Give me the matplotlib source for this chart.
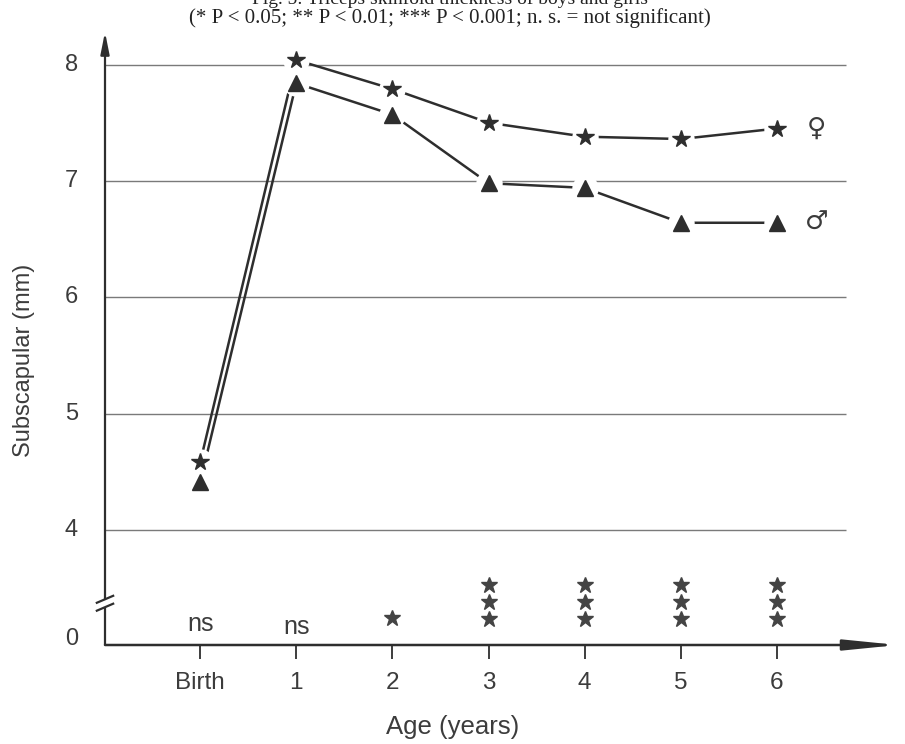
"""Subscapular skinfold of boys and girls, birth to 6 years (scanned figure redraw)."""

import matplotlib

matplotlib.use("Agg")

import matplotlib.pyplot as plt

AGE_LABELS = ["Birth", "1", "2", "3", "4", "5", "6"]
AGE_POS = [0, 1, 2, 3, 4, 5, 6]
GIRLS = [4.58, 8.04, 7.79, 7.50, 7.38, 7.36, 7.45]
BOYS = [4.41, 7.84, 7.57, 6.98, 6.94, 6.64, 6.64]
SIGNIF = ["ns", "ns", "*", "***", "***", "***", "***"]
GRID_Y = [4, 5, 6, 7, 8]
GRID_LABELS = ["4", "5", "6", "7", "8"]

TITLE_1 = "Fig. 5: Triceps skinfold thickness of boys and girls"
TITLE_2 = "(* P < 0.05; ** P < 0.01; *** P < 0.001; n. s. = not significant)"

INK = "#2e2e2e"
TEXT = "#3c3c3c"
GRID = "#7a7a7a"
SANS = ["Liberation Sans", "DejaVu Sans"]
SERIF = ["Liberation Serif", "DejaVu Serif"]

# axis frame (y value where the broken axis shows "0")
X_MIN, X_MAX = -0.99, 7.26
Y_MIN, Y_MAX = 3.01, 8.28
BREAK_LO, BREAK_HI = 3.335, 3.405


def draw_axes(ax):
    # y axis with a break near the bottom and an arrow on top
    ax.plot([X_MIN, X_MIN], [Y_MIN, BREAK_LO], color=INK, lw=1.6, clip_on=False,
            solid_capstyle="butt")
    ax.annotate("", xy=(X_MIN, Y_MAX), xytext=(X_MIN, BREAK_HI),
                arrowprops=dict(arrowstyle="-|>,head_length=0.65,head_width=0.13",
                                mutation_scale=20, color=INK, lw=1.6,
                                shrinkA=0, shrinkB=0),
                annotation_clip=False)
    for dy in (0.0, -0.068):
        ax.plot([X_MIN - 0.085, X_MIN + 0.085], [3.373 + dy, 3.433 + dy],
                color=INK, lw=1.6, clip_on=False)

    # x axis with a long arrow head
    ax.annotate("", xy=(X_MAX, Y_MIN), xytext=(X_MIN, Y_MIN),
                arrowprops=dict(arrowstyle="-|>,head_length=1.6,head_width=0.16",
                                mutation_scale=20, color=INK, lw=1.8,
                                shrinkA=0, shrinkB=0),
                annotation_clip=False)
    ax.vlines(AGE_POS, Y_MIN - 0.12, Y_MIN, color=INK, lw=1.3, clip_on=False)
    for x, lab in zip(AGE_POS, AGE_LABELS):
        ax.text(x, Y_MIN - 0.33, lab, ha="center", va="center", fontsize=17.5,
                color=TEXT, family=SANS)

    # horizontal grid with y labels
    ax.hlines(GRID_Y, X_MIN - 0.12, 6.72, color=GRID, lw=1.0, zorder=1)
    for y, lab in zip(GRID_Y, GRID_LABELS):
        ax.text(X_MIN - 0.35, y, lab, ha="center", va="center", fontsize=17,
                color=TEXT, family=SANS)
    ax.text(X_MIN - 0.35, Y_MIN + 0.05, "0", ha="center", va="center",
            fontsize=17, color=TEXT, family=SANS)


def draw_series(ax, values, marker, ms, symbol):
    ax.plot(AGE_POS, values, color=INK, lw=1.8, zorder=2)
    # white halo so the lines stop short of each marker
    ax.plot(AGE_POS, values, ls="none", marker="o", ms=19, mfc="white",
            mec="none", zorder=3)
    ax.plot(AGE_POS, values, ls="none", marker=marker, ms=ms, mfc=INK,
            mec=INK, zorder=4)
    ax.text(AGE_POS[-1] + 0.41, values[-1], symbol, ha="center", va="center",
            fontsize=19, color=TEXT, family=["DejaVu Sans"])


def draw_significance(ax):
    for x, sig in zip(AGE_POS, SIGNIF):
        if sig == "ns":
            ax.text(x, 3.19 - 0.025 * x, "ns", ha="center", va="center",
                    fontsize=18, color=TEXT, family=SANS)
        else:
            n = len(sig)
            ys = [3.23 + 0.15 * i for i in range(n)] if n > 1 else [3.245]
            ax.plot([x] * n, ys, ls="none", marker="*", ms=12, color="#444444",
                    clip_on=False)


def main():
    fig = plt.figure(figsize=(9.05, 7.44), dpi=100)
    ax = fig.add_axes([105 / 905, 1 - 645 / 744, (898 - 105) / 905, (645 - 32) / 744])
    ax.set_xlim(X_MIN, X_MAX)
    ax.set_ylim(Y_MIN, Y_MAX)
    ax.axis("off")

    draw_axes(ax)
    draw_series(ax, GIRLS, "*", 13, "\u2640")
    draw_series(ax, BOYS, "^", 11, "\u2642")
    draw_significance(ax)

    fig.text(0.027, 0.515, "Subscapular (mm)", rotation=90, ha="center",
             va="center", fontsize=17, color=TEXT, family=SANS)
    fig.text(0.5, 1 - 727 / 744, "Age (years)", ha="center", va="center",
             fontsize=18.5, color=TEXT, family=SANS)
    fig.text(0.497, 1 - 4 / 744, TITLE_1, ha="center", va="baseline",
             fontsize=14, color="#222222", family=SERIF)
    fig.text(0.497, 1 - 18 / 744, TITLE_2, ha="center", va="center",
             fontsize=15, color="#222222", family=SERIF)

    fig.savefig("out.png", dpi=100)
    plt.close(fig)


if __name__ == "__main__":
    main()
